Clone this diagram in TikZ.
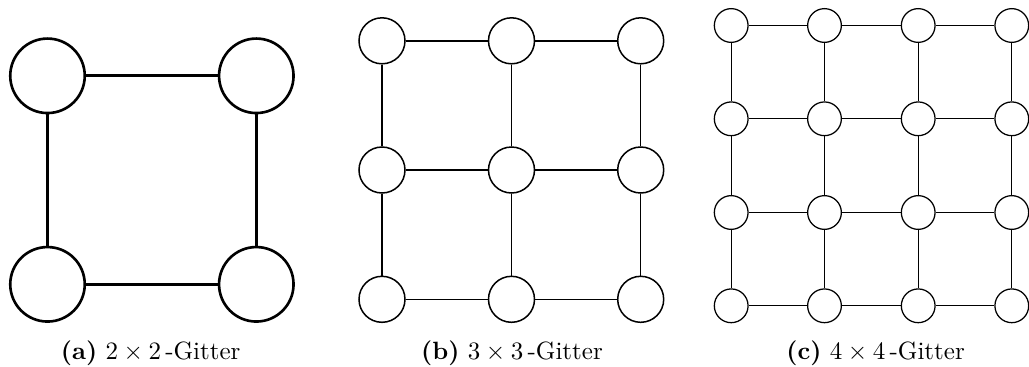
\documentclass[tikz,border=0pt]{standalone}
\usetikzlibrary{positioning}
\begin{document}
\begin{tikzpicture}[x=0.4pt,y=-0.4pt,
  vtxa/.style={circle,draw,line width=1.05pt,minimum size=29.8pt,inner sep=0pt,fill=white},
  vtxb/.style={circle,draw,line width=0.6pt,minimum size=18.4pt,inner sep=0pt,fill=white},
  vtxc/.style={circle,draw,line width=0.5pt,minimum size=13.5pt,inner sep=0pt,fill=white},
  edgea/.style={line width=1.05pt},
  edgeb/.style={line width=0.6pt},
  edgec/.style={line width=0.5pt},
  captext/.style={font=\fontsize{10}{12}\selectfont,anchor=base}]
\useasboundingbox (0,0) rectangle (1029,367);
% (a) 2x2
\foreach \i/\x in {1/47.5,2/256.3}
  \foreach \j/\y in {1/75.8,2/284.3}
    \node[vtxa] (a\i\j) at (\x,\y) {};
\draw[edgea] (a11) -- (a21) (a12) -- (a22) (a11) -- (a12) (a21) -- (a22);
% (b) 3x3
\foreach \i/\x in {1/382,2/511.5,3/640.7}
  \foreach \j/\y in {1/40.8,2/170,3/299.3}
    \node[vtxb] (b\i\j) at (\x,\y) {};
\foreach \i/\k in {1/2,2/3}
  \foreach \j in {1,2,3} {
    \draw[edgeb] (b\i\j) -- (b\k\j);
    \draw[edgeb] (b\j\i) -- (b\j\k);
  }
% (c) 4x4
\foreach \i/\x in {1/731.2,2/824.5,3/918.2,4/1011.8}
  \foreach \j/\y in {1/25.5,2/118.8,3/212.5,4/305.8}
    \node[vtxc] (c\i\j) at (\x,\y) {};
\foreach \i/\k in {1/2,2/3,3/4}
  \foreach \j in {1,2,3,4} {
    \draw[edgec] (c\i\j) -- (c\k\j);
    \draw[edgec] (c\j\i) -- (c\j\k);
  }
% captions
\node[captext] (capa) at (150.7,359) {\textbf{(a)} $2\times2$\,-Gitter};
\node[captext] (capb) at (512,359) {\textbf{(b)} $3\times3$\,-Gitter};
\node[captext] (capc) at (875.6,359) {\textbf{(c)} $4\times4$\,-Gitter};
\end{tikzpicture}
\end{document}
